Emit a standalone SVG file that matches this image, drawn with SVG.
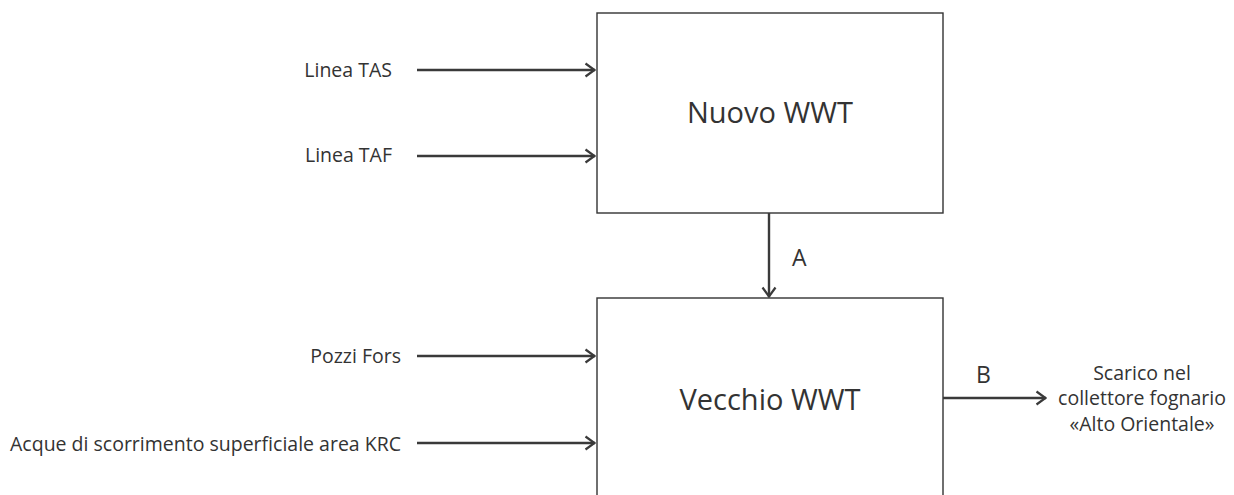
<svg xmlns="http://www.w3.org/2000/svg" width="1234" height="495" viewBox="0 0 1234 495">
<style>
.box{fill:#fff;stroke:#333;stroke-width:1.4}
.lbl{font-family:"Open Sans","Liberation Sans",sans-serif;font-size:19.5px;fill:#333}
.big{font-family:"Open Sans","Liberation Sans",sans-serif;font-size:29px;fill:#333;text-anchor:middle}
.let{font-family:"Open Sans","Liberation Sans",sans-serif;font-size:23px;fill:#333}
.conn{stroke:#3a3a3a;stroke-width:2.4;fill:none;marker-end:url(#arr)}
</style>
<defs>
<marker id="arr" viewBox="0 0 12 16" refX="11" refY="8" markerWidth="12" markerHeight="16" markerUnits="userSpaceOnUse" orient="auto">
<path d="M1.5,1.5 L10.5,8 L1.5,14.5" fill="none" stroke="#3a3a3a" stroke-width="2.2"/>
</marker>
</defs>
<rect width="1234" height="495" fill="#fff"/>
<g id="nuovo">
<rect class="box" x="597" y="13" width="346" height="200"/>
<text class="big" x="770" y="123">Nuovo WWT</text>
</g>
<g id="vecchio">
<rect class="box" x="597" y="298" width="346" height="210"/>
<text class="big" x="770" y="410">Vecchio WWT</text>
</g>
<g id="labels">
<text class="lbl" x="392" y="77" text-anchor="end">Linea TAS</text>
<text class="lbl" x="392" y="162" text-anchor="end">Linea TAF</text>
<text class="lbl" x="401" y="363" text-anchor="end">Pozzi Fors</text>
<text class="lbl" x="401" y="451" text-anchor="end">Acque di scorrimento superficiale area KRC</text>
<text class="lbl" x="1142" y="380" text-anchor="middle">Scarico nel</text>
<text class="lbl" x="1142" y="405" text-anchor="middle">collettore fognario</text>
<text class="lbl" x="1142" y="431" text-anchor="middle">«Alto Orientale»</text>
<text class="let" x="792" y="266">A</text>
<text class="let" x="976" y="383">B</text>
</g>
<g id="connectors">
<line class="conn" x1="417" y1="70" x2="595" y2="70"/>
<line class="conn" x1="417" y1="156" x2="595" y2="156"/>
<line class="conn" x1="417" y1="356" x2="595" y2="356"/>
<line class="conn" x1="417" y1="443" x2="595" y2="443"/>
<line class="conn" x1="769" y1="213" x2="769" y2="297"/>
<line class="conn" x1="943" y1="398" x2="1046" y2="398"/>
</g>
</svg>
